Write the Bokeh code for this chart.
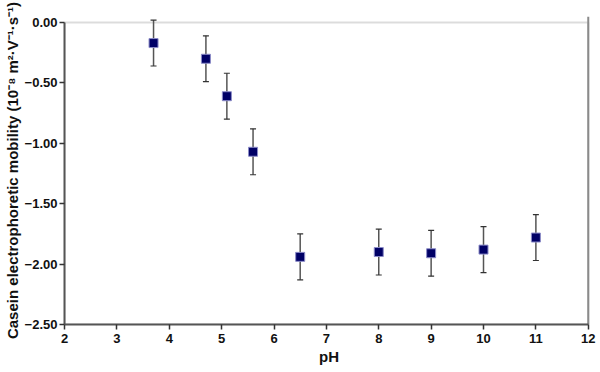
from bokeh.plotting import figure
from bokeh.models import ColumnDataSource, Whisker, TeeHead, FixedTicker, Range1d, BoxAnnotation, Span
from bokeh.embed import file_html
from bokeh.resources import INLINE

# Data
ph = [3.7, 4.7, 5.1, 5.6, 6.5, 8.0, 9.0, 10.0, 11.0]
mobility = [-0.17, -0.30, -0.61, -1.07, -1.94, -1.90, -1.91, -1.88, -1.78]
error = [0.19, 0.19, 0.19, 0.19, 0.19, 0.19, 0.19, 0.19, 0.19]

x_min, x_max = 2, 12
y_min, y_max = -2.5, 0.0
x_ticks = [2, 3, 4, 5, 6, 7, 8, 9, 10, 11, 12]
y_ticks = [0.0, -0.5, -1.0, -1.5, -2.0, -2.5]
y_tick_labels = ["0.00", "\u22120.50", "\u22121.00", "\u22121.50", "\u22122.00", "\u22122.50"]

x_label = "pH"
y_label = "Casein electrophoretic mobility (10\u207b\u2078 m\u00b2\u00b7V\u207b\u00b9\u00b7s\u207b\u00b9)"

upper = [m + e for m, e in zip(mobility, error)]
lower = [m - e for m, e in zip(mobility, error)]
src = ColumnDataSource(dict(x=ph, y=mobility, upper=upper, lower=lower))

FONT = "Liberation Sans"
AX = "#555555"
FRAME = "#8a8a8a"

p = figure(width=600, height=372, output_backend="svg", toolbar_location=None,
           x_range=Range1d(x_min, x_max + 0.1), y_range=Range1d(y_min, y_max + 0.05),
           min_border_left=64, min_border_right=7, min_border_top=16, min_border_bottom=48)

p.xgrid.visible = False
p.ygrid.visible = False
p.outline_line_color = None
p.background_fill_color = "white"
p.border_fill_color = "white"

for ax in (p.xaxis[0], p.yaxis[0]):
    ax.axis_line_color = AX
    ax.axis_line_width = 2
    ax.major_tick_line_color = "#333333"
    ax.major_tick_line_width = 1.5
    ax.major_tick_out = 5
    ax.major_tick_in = 0
    ax.minor_tick_line_color = None
    ax.major_label_text_font = FONT
    ax.major_label_text_font_style = "bold"
    ax.major_label_text_font_size = "13px"
    ax.major_label_text_color = "#111111"
    ax.axis_label_text_font = FONT
    ax.axis_label_text_font_style = "bold"
    ax.axis_label_text_color = "#111111"

p.xaxis.ticker = FixedTicker(ticks=x_ticks)
p.yaxis.ticker = FixedTicker(ticks=y_ticks)
p.xaxis.bounds = (x_min, x_max)
p.yaxis.bounds = (y_min, y_max)
p.yaxis.major_label_overrides = {t: l for t, l in zip(y_ticks, y_tick_labels)}
p.xaxis.axis_label = x_label
p.yaxis.axis_label = y_label
p.xaxis.axis_label_text_font_size = "15px"
p.yaxis.axis_label_text_font_size = "15px"
p.xaxis.major_label_standoff = 4
p.yaxis.major_label_standoff = 2
p.xaxis.axis_label_standoff = 2
p.yaxis.axis_label_standoff = 1

# plot box (top edge at 0 and right edge at 12)
box = BoxAnnotation(left=x_min, right=x_max, bottom=y_min, top=y_max,
                    fill_alpha=0, line_color=FRAME, line_width=2, level="underlay")
p.add_layout(box)
p.add_layout(Span(location=x_max, dimension="height", line_color=FRAME, line_width=2,
                  level="underlay"))

w = Whisker(source=src, base="x", upper="upper", lower="lower",
            line_color="#555555", line_width=1.5,
            upper_head=TeeHead(size=6, line_color="#333333", line_width=1.2),
            lower_head=TeeHead(size=6, line_color="#333333", line_width=1.2))
p.add_layout(w)

p.scatter("x", "y", source=src, marker="square", size=9,
          fill_color="#000066", line_color="#8c8cc8", line_width=1)

open("out.html", "w").write(file_html(p, INLINE))
